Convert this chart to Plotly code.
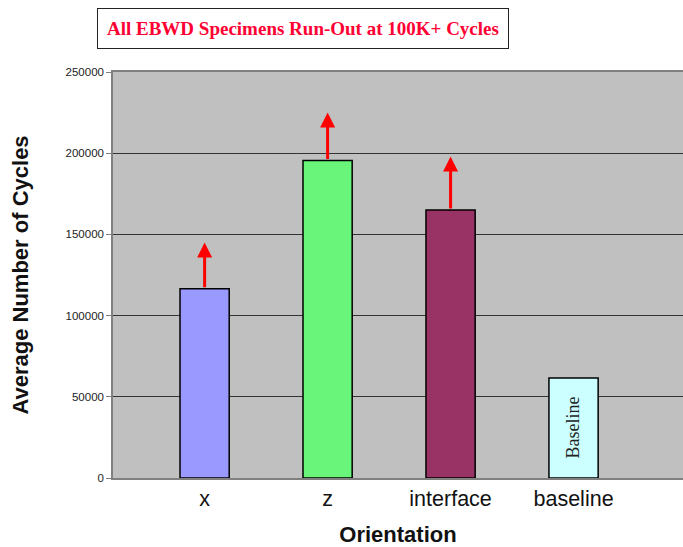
import plotly.graph_objects as go

categories = ["x", "z", "interface", "baseline"]
avg_cycles = [116500, 195500, 165000, 61500]
bar_colors = ["#9999ff", "#69f57a", "#993366", "#ccffff"]
arrow_tips = [145000, 225000, 198000, None]
y_ticks = [0, 50000, 100000, 150000, 200000, 250000]

xpos = list(range(len(categories)))

fig = go.Figure()
fig.add_trace(go.Bar(
    x=xpos, y=avg_cycles, width=0.4,
    marker=dict(color=bar_colors, line=dict(color="black", width=1.5)),
    hoverinfo="skip",
))

for i, tip in enumerate(arrow_tips):
    if tip is None:
        continue
    fig.add_annotation(
        x=xpos[i], y=tip, ax=xpos[i], ay=avg_cycles[i],
        xref="x", yref="y", axref="x", ayref="y",
        text="", showarrow=True, arrowhead=2, arrowsize=1.0,
        arrowwidth=3, arrowcolor="#ff0000", standoff=0, startstandoff=0,
    )

fig.add_annotation(
    x=xpos[3], y=avg_cycles[3] / 2, xref="x", yref="y",
    text="Baseline", textangle=-90, showarrow=False,
    font=dict(family="Liberation Serif", size=18, color="#222"),
)

fig.add_annotation(
    x=(302.5 - 113) / 570, y=(478 - 29) / 406, xref="paper", yref="paper",
    xanchor="center", yanchor="middle",
    text="<b>All EBWD Specimens Run-Out at 100K+ Cycles</b>", showarrow=False,
    font=dict(family="Liberation Serif", size=19, color="#ff0033"),
    bordercolor="#222", borderwidth=1, borderpad=9, bgcolor="white",
)

fig.update_layout(
    width=683, height=547,
    margin=dict(l=113, r=0, t=72, b=69),
    paper_bgcolor="white", plot_bgcolor="#c0c0c0",
    showlegend=False,
    font=dict(family="Liberation Sans, Arial", color="black"),
)
fig.update_xaxes(
    range=[-0.745, 3.89],
    tickmode="array", tickvals=xpos, ticktext=categories,
    tickfont=dict(size=21.5, color="#111"),
    showgrid=False, showline=True, linecolor="#808080", linewidth=1.5, mirror=True,
    ticks="", zeroline=False,
    title=dict(text="<b>Orientation</b>", font=dict(size=22, color="#111"), standoff=18),
)
fig.update_yaxes(
    range=[0, 250000],
    tickmode="array", tickvals=y_ticks, ticktext=[str(v) for v in y_ticks],
    tickfont=dict(size=11.5, color="#222"),
    showgrid=True, gridcolor="#333333", gridwidth=1,
    showline=True, linecolor="#808080", linewidth=1.5,
    ticks="outside", ticklen=5, tickcolor="#808080",
    zeroline=False,
    title=dict(text="<b>Average Number of Cycles</b>", font=dict(size=22, color="#111"), standoff=31),
)

fig.write_html("out.html")
